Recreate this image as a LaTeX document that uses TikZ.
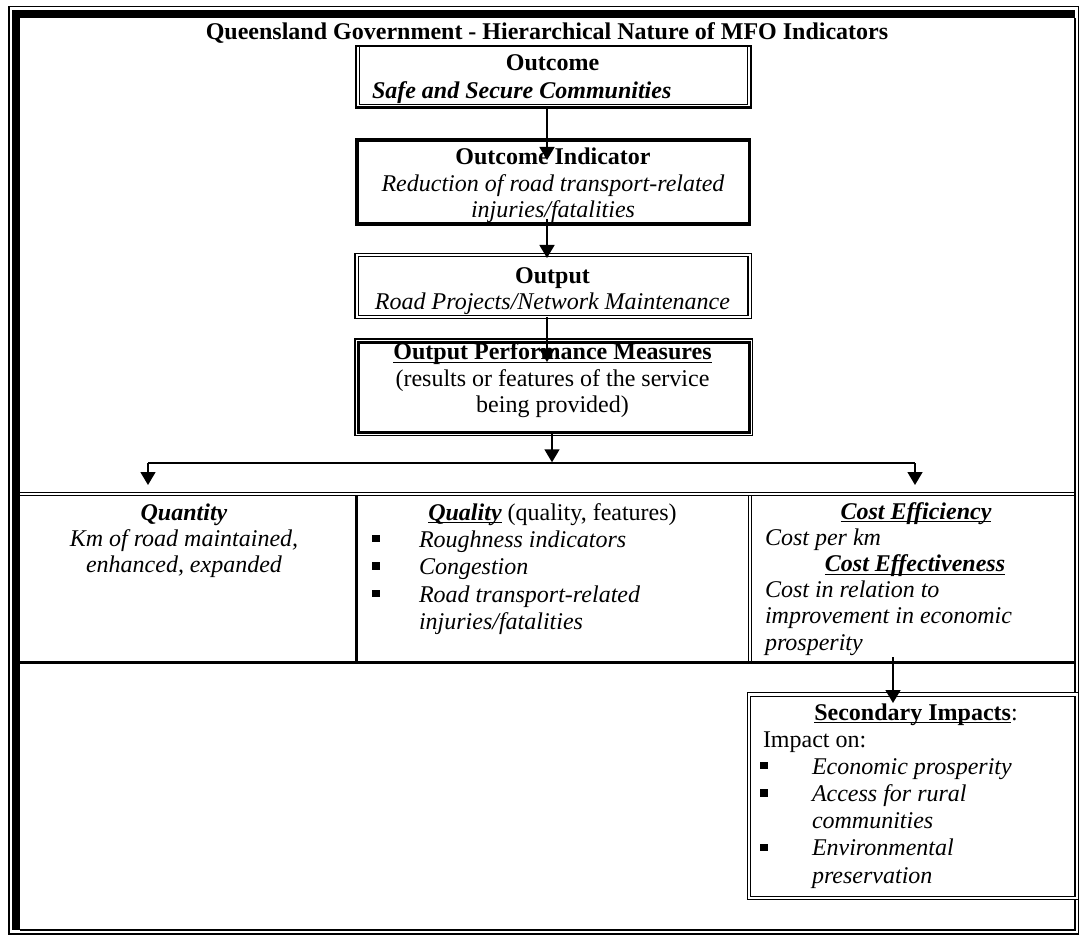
\documentclass[tikz,border=0pt]{standalone}
\usepackage{fontspec}
\setmainfont{Liberation Serif}
\usetikzlibrary{arrows.meta,calc}

% underline at a fixed depth, as a word processor sets it
\newcommand\wul[1]{\setbox0\hbox{#1}\rlap{\rule[-3.4pt]{\wd0}{1.3pt}}\box0\relax}
% square list bullet
\newcommand\sqb{\rule[4.8pt]{7.5pt}{7.5pt}}

\begin{document}
\begin{tikzpicture}[x=1pt,y=-1pt,
  font=\fontsize{24}{26.7}\selectfont,
  txt/.style={inner sep=0pt,outer sep=0pt},
  boxbase/.style={inner sep=0pt,outer sep=0pt},
  dblline/.style={line width=1.2pt,double distance=2.3pt},
  thinline/.style={line width=1.3pt},
  conn/.style={line width=1.5pt,-{Triangle[width=15pt,length=13pt]}},
  plainline/.style={line width=1.5pt}]
\useasboundingbox (0,0) rectangle (1080,936);
\fill[white] (0,0) rectangle (1080,936);

% ---- outer frame ----
\fill (12,10) rectangle (1075,18);
\fill (12,10) rectangle (20,930);
\draw[line width=1.4pt] (9,6.7) rectangle (1078.5,934);
\draw[thinline] (20,930) -- (1075,930) -- (1075,18);

% ---- table rules ----
\draw[thinline] (20,492.5) -- (1075,492.5) (20,495.8) -- (1075,495.8);
\draw[line width=3.3pt] (20,662.7) -- (1075,662.7);
\draw[line width=3pt] (356.5,496.4) -- (356.5,661);
\draw[thinline] (748.3,496) -- (748.3,662) (751.7,496) -- (751.7,662);

% ---- hierarchy boxes ----
\node[boxbase,draw,line width=2.2pt,minimum width=395.2pt,minimum height=61.5pt] (outcome) at (553.6,76.75) {};
\draw[line width=1.2pt] ([shift={(3.4,0)}]outcome.north west) -- ([shift={(3.4,-3.2)}]outcome.south west)
  -- ([shift={(-3.4,-3.2)}]outcome.south east) -- ([shift={(-3.4,0)}]outcome.north east);

\node[boxbase,draw,line width=3.5pt,minimum width=392.5pt,minimum height=84pt] (oind) at (553.25,182) {};

\node[boxbase,draw,dblline,minimum width=393pt,minimum height=62pt] (output) at (553.25,286) {};

\node[boxbase,draw,line width=2.5pt,minimum width=391pt,minimum height=90pt] (opm) at (554,387.5) {};
\draw[line width=1.1pt] ([shift={(-3.5,-3.5)}]opm.north west) rectangle ([shift={(3.2,3.4)}]opm.south east);

\node[boxbase,draw,dblline,minimum width=327.75pt,minimum height=203.5pt] (secondary) at (912.875,796.25) {};

% ---- texts ----
\node[txt,anchor=base] (title) at (547,40) {\bfseries Queensland Government - Hierarchical Nature of MFO Indicators};

\node[txt,anchor=base] (outcomehead) at (552.5,71) {\bfseries Outcome};
\node[txt,anchor=base west] (outcomebody) at (372,98.5) {\bfseries\itshape Safe and Secure Communities};

\node[txt,anchor=base] (oindtext) at (553,165) {\fontsize{24}{26.2}\selectfont
  \begin{tabular}[t]{@{}c@{}}\bfseries Outcome Indicator\\ \itshape Reduction of road transport-related\\ \itshape injuries/fatalities\end{tabular}};

\node[txt,anchor=base] (outputtext) at (552.5,283.3) {\fontsize{24}{26.7}\selectfont
  \begin{tabular}[t]{@{}c@{}}\bfseries Output\\ \itshape Road Projects/Network Maintenance\end{tabular}};

\node[txt,anchor=base] (opmtext) at (552.5,359.5) {\fontsize{24}{26.5}\selectfont
  \begin{tabular}[t]{@{}c@{}}\wul{\bfseries Output Performance Measures}\\ (results or features of the service\\ being provided)\end{tabular}};

\node[txt,anchor=base] (quantity) at (184,520) {\fontsize{24}{26}\selectfont
  \begin{tabular}[t]{@{}c@{}}\bfseries\itshape Quantity\\ \itshape Km of road maintained,\\ \itshape enhanced, expanded\end{tabular}};

\node[txt,anchor=base] (qualityhead) at (552.5,520) {\wul{\bfseries\itshape Quality} (quality, features)};
\node[txt,anchor=base west] (qualitylist) at (372.3,547) {\fontsize{24}{27.6}\selectfont
  \begin{tabular}[t]{@{}l@{}}
  \makebox[46.7pt][l]{\sqb}\itshape Roughness indicators\\
  \makebox[46.7pt][l]{\sqb}\itshape Congestion\\
  \makebox[46.7pt][l]{\sqb}\itshape Road transport-related\\
  \hspace*{46.7pt}\itshape injuries/fatalities
  \end{tabular}};

\node[txt,anchor=base] (effhead) at (916,519) {\wul{\bfseries\itshape Cost Efficiency}};
\node[txt,anchor=base west] (effbody) at (765,545.2) {\itshape Cost per km};
\node[txt,anchor=base] (effvhead) at (915,571.4) {\wul{\bfseries\itshape Cost Effectiveness}};
\node[txt,anchor=base west] (effvbody) at (765,597.6) {\fontsize{24}{26.2}\selectfont
  \begin{tabular}[t]{@{}l@{}}\itshape Cost in relation to\\ \itshape improvement in economic\\ \itshape prosperity\end{tabular}};

\node[txt,anchor=base] (sechead) at (916,720) {\wul{\bfseries Secondary Impacts}:};
\node[txt,anchor=base west] (secbody) at (760,747) {\fontsize{24}{27.2}\selectfont
  \begin{tabular}[t]{@{}l@{}}
  \hspace*{3pt}Impact on:\\
  \makebox[52pt][l]{\sqb}\itshape Economic prosperity\\
  \makebox[52pt][l]{\sqb}\itshape Access for rural\\
  \hspace*{52pt}\itshape communities\\
  \makebox[52pt][l]{\sqb}\itshape Environmental\\
  \hspace*{52pt}\itshape preservation
  \end{tabular}};

% ---- connectors ----
\coordinate (t1) at (547,160);
\coordinate (t2) at (547,258);
\coordinate (t3) at (547,362);
\coordinate (t4) at (552,462.3);
\coordinate (bl) at (148,463);
\coordinate (br) at (915,463);
\coordinate (tq) at (148,485);
\coordinate (tc) at (915,485);
\coordinate (s7) at (893,657);
\coordinate (t7) at (893,703);

\draw[conn] (outcome.south -| t1) -- (t1);
\draw[conn] ($(oind.south -| t2)+(0,-5)$) -- (t2);
\draw[conn] (output.south -| t3) -- (t3);
\draw[conn] (opm.south -| t4) -- (t4);
\draw[plainline] (bl) -- (br);
\draw[conn] (bl) -- (tq);
\draw[conn] (br) -- (tc);
\draw[conn] (s7) -- (t7);
\end{tikzpicture}
\end{document}
